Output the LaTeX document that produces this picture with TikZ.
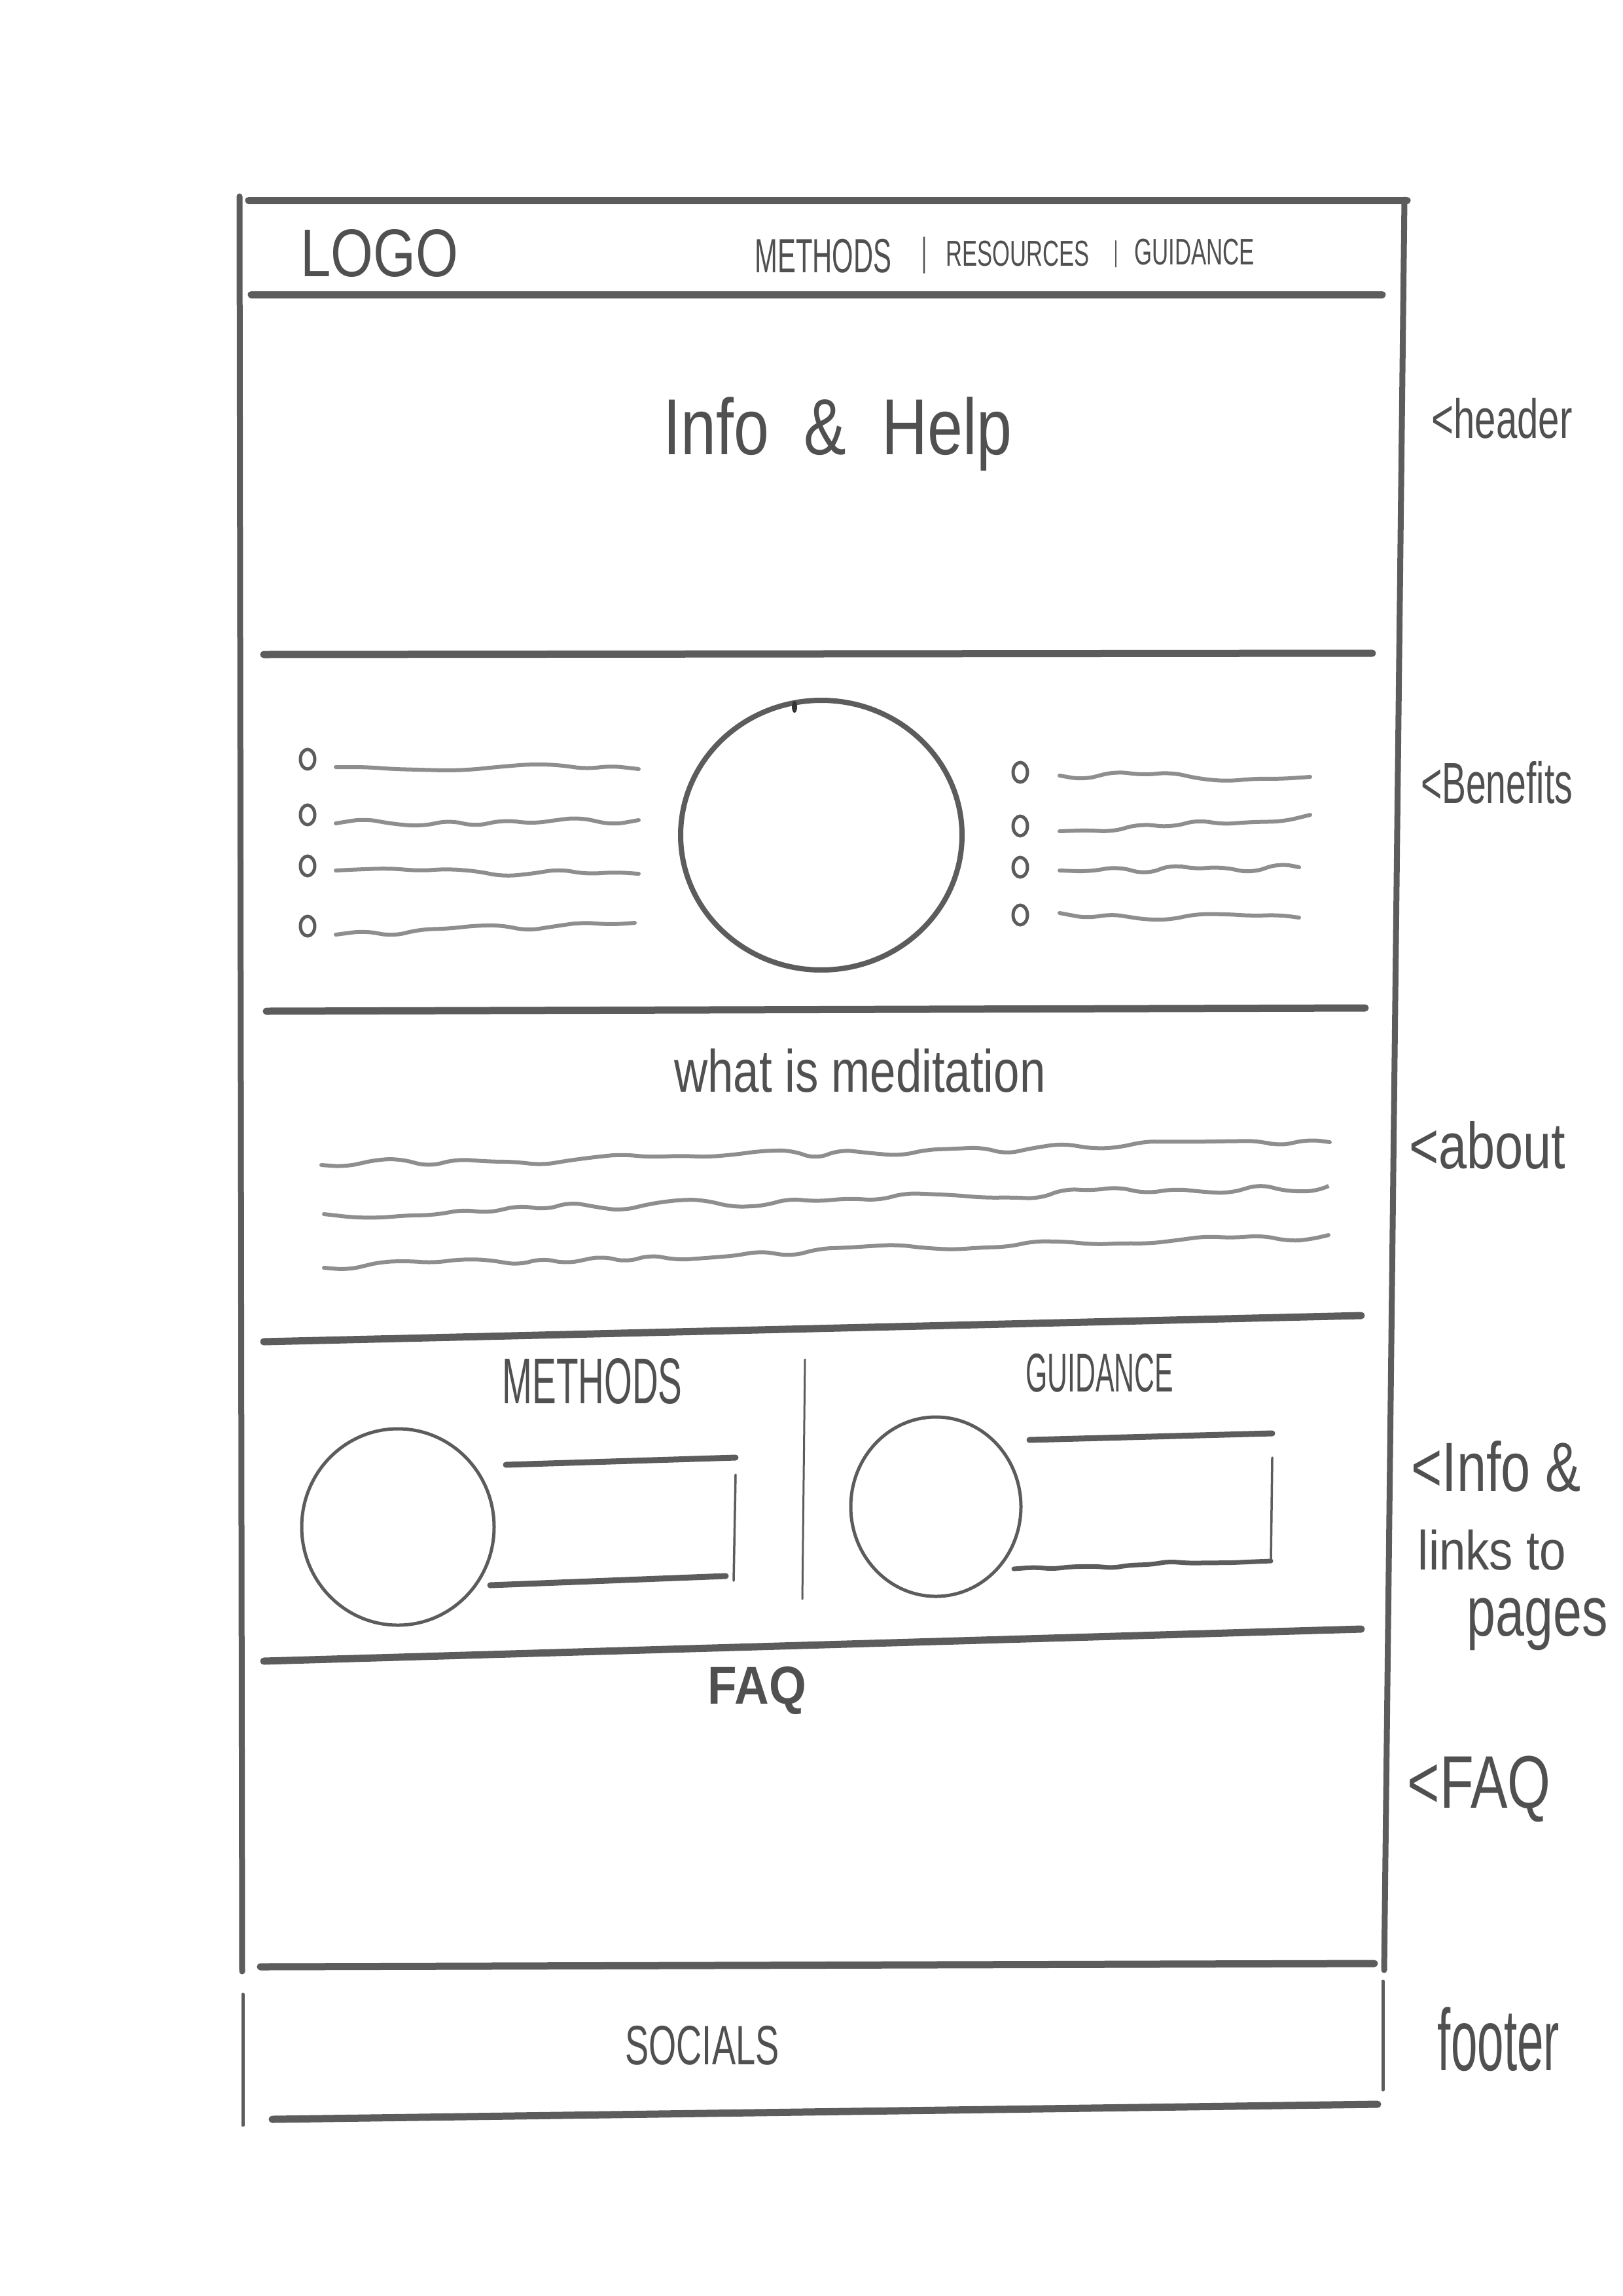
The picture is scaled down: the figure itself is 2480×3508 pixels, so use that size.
\documentclass[tikz,border=0pt]{standalone}
\usepackage{fontspec}
\setmainfont{Liberation Sans}
\usepackage{graphicx}
\usetikzlibrary{decorations.pathmorphing}
\definecolor{pen}{HTML}{5C5C5C}
\definecolor{penlight}{HTML}{8E8E8E}
\definecolor{ink}{HTML}{505050}
\newcommand{\skt}[3]{\resizebox*{#1pt}{#2pt}{#3}}
\begin{document}
\begin{tikzpicture}[x=1pt,y=-1pt,
  heavy/.style={draw=pen,line width=11pt,line cap=round},
  medium/.style={draw=pen,line width=6pt,line cap=round},
  fine/.style={draw=pen,line width=3.5pt,line cap=round},
  scrib/.style={draw=penlight,line width=6pt,line cap=round,
     decorate,decoration={random steps,segment length=42pt,amplitude=8pt},rounded corners=18pt},
  bullet/.style={draw=pen,line width=5pt},
  txt/.style={inner sep=0pt,outer sep=0pt,text=ink,anchor=center}]
\pgfmathsetseed{11}
\useasboundingbox[fill=white] (0,0) rectangle (2480,3508);

% ---- outer frame and section rules
\draw[heavy] (380,306) -- (2150,306);
\draw[heavy,line width=9pt] (366,300) -- (370,3012);
\draw[heavy,line width=9pt] (2146,305) -- (2115,3010);
\draw[heavy] (384,450) -- (2112,450);
\draw[heavy] (403,1000) -- (2097,998);
\draw[heavy] (407,1545) -- (2086,1540);
\draw[heavy] (403,2050) -- (2080,2010);
\draw[heavy] (403,2538) -- (2080,2489);
\draw[heavy] (398,3005) -- (2100,3000);
% footer box
\draw[medium,line width=5pt] (371,3047) -- (371,3247);
\draw[medium,line width=5pt] (2113,3027) -- (2113,3193);
\draw[heavy] (416,3238) -- (2105,3215);

% ---- header texts
\node[txt] (logo) at (580,387) {\skt{241}{73}{LOGO}};
\node[txt] (navm) at (1258,391) {\skt{209}{52}{METHODS}};
\node[txt] (bar1) at (1412,390) {\skt{8}{56}{|}};
\node[txt] (navr) at (1555,388) {\skt{219}{39}{RESOURCES}};
\node[txt] (bar2) at (1705,388) {\skt{6}{41}{|}};
\node[txt] (navg) at (1825,385) {\skt{184}{40}{GUIDANCE}};
\node[txt] (hero) at (1280,663) {\skt{533}{113}{Info \ \& \ Help}};

% ---- benefits
\draw[draw=pen,line width=8pt] (1255,1276) ellipse [x radius=215, y radius=206];
\fill[black!80] (1214,1080) ellipse [x radius=4, y radius=9];
\foreach \y in {1160,1245,1323,1415} \draw[bullet] (470,\y) ellipse [x radius=11, y radius=15];
\foreach \y in {1180,1262,1325,1398} \draw[bullet] (1559,\y) ellipse [x radius=11, y radius=15];
\draw[scrib] (513,1172) -- (976,1175);
\draw[scrib] (513,1258) -- (976,1253);
\draw[scrib] (513,1330) -- (976,1335);
\draw[scrib] (513,1428) -- (970,1410);
\draw[scrib] (1619,1185) -- (2002,1187);
\draw[scrib] (1619,1270) -- (2002,1245);
\draw[scrib] (1619,1330) -- (1985,1325);
\draw[scrib] (1619,1395) -- (1985,1402);

% ---- about
\node[txt] (abt) at (1314,1636) {\skt{567}{67}{what is meditation}};
\draw[scrib] (491,1780) -- (2032,1745);
\draw[scrib] (495,1855) -- (2030,1812);
\draw[scrib] (495,1937) -- (2030,1887);

% ---- info & links
\node[txt] (meth) at (905,2110) {\skt{275}{70}{METHODS}};
\node[txt] (guid) at (1680,2098) {\skt{226}{59}{GUIDANCE}};
\draw[fine,line width=3pt] (1230,2077) -- (1226,2443);
\draw[draw=pen,line width=5pt] (608,2333) ellipse [x radius=147, y radius=150];
\draw[draw=pen,line width=5pt] (1430,2302) ellipse [x radius=130, y radius=137];
\draw[heavy,line width=9pt] (773,2238) -- (1124,2227);
\draw[fine] (1124,2253) -- (1121,2415);
\draw[heavy,line width=9pt] (749,2422) -- (1109,2408);
\draw[heavy,line width=9pt] (1573,2200) -- (1944,2190);
\draw[fine] (1944,2227) -- (1942,2383);
\draw[draw=pen,line width=7pt,line cap=round,decorate,
  decoration={random steps,segment length=30pt,amplitude=4pt},rounded corners=10pt]
  (1549,2397) -- (1942,2385);

% ---- FAQ & footer texts
\node[txt] (faq) at (1157,2583) {\skt{150}{73}{\bfseries FAQ}};
\node[txt] (soc) at (1073,3125) {\skt{235}{60}{SOCIALS}};

% ---- side annotations
\node[txt] (nhead) at (2295,639) {\skt{215}{62}{<header}};
\node[txt] (nben) at (2287,1196) {\skt{232}{65}{<Benefits}};
\node[txt] (nabt) at (2273,1750) {\skt{239}{73}{<about}};
\node[txt] (ninf1) at (2286,2240) {\skt{259}{78}{<Info \&}};
\node[txt] (ninf2) at (2280,2368) {\skt{226}{62}{links to}};
\node[txt] (ninf3) at (2349,2482) {\skt{215}{80}{pages}};
\node[txt] (nfaq) at (2260,2733) {\skt{219}{101}{<FAQ}};
\node[txt] (nfoot) at (2290,3116) {\skt{186}{98}{footer}};
\end{tikzpicture}
\end{document}
